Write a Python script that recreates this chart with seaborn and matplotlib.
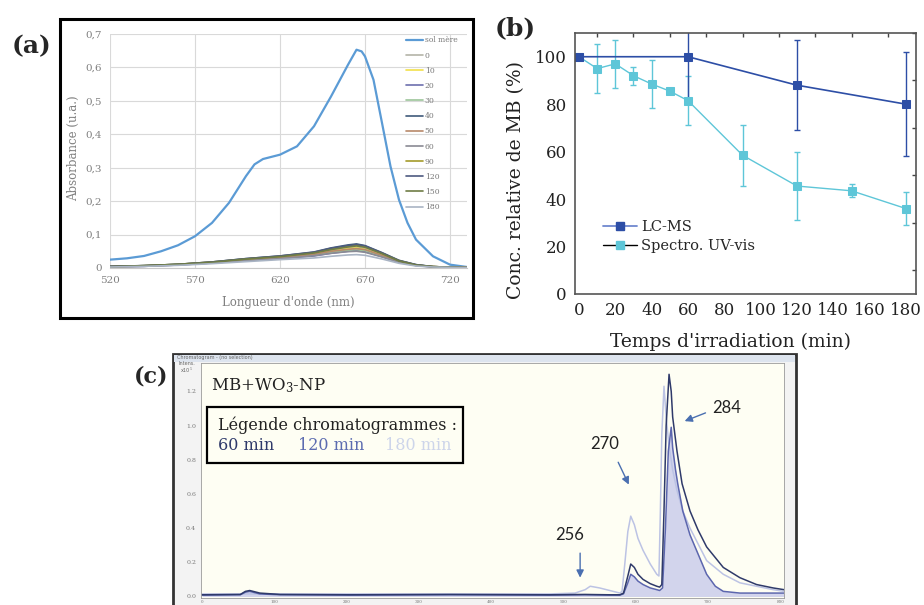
import matplotlib
matplotlib.use('Agg')
import matplotlib.pyplot as plt
from matplotlib.patches import Rectangle
from matplotlib.lines import Line2D
from matplotlib.ticker import MultipleLocator, FuncFormatter
import seaborn as sns

sns.set_style('white')
plt.rcParams['font.family'] = ['DejaVu Serif']
plt.rcParams['mathtext.fontset'] = 'dejavuserif'

W, H = 924, 605


def box(x0, y0, x1, y1):
    # rectangle en pixels (origine en haut a gauche) -> coordonnees figure
    return [x0 / W, 1 - y1 / H, (x1 - x0) / W, (y1 - y0) / H]


# ---------------- (a) spectres UV-vis ----------------
wl_mere = [520, 530, 540, 550, 560, 570, 580, 590, 600, 605, 610, 620, 630, 640, 650, 660,
           665, 668, 670, 675, 680, 685, 690, 695, 700, 710, 720, 730]
abs_mere = [0.025, 0.029, 0.036, 0.050, 0.068, 0.095, 0.135, 0.195, 0.275, 0.31, 0.326, 0.339,
            0.364, 0.424, 0.513, 0.608, 0.653, 0.648, 0.633, 0.563, 0.434, 0.304, 0.204, 0.135,
            0.085, 0.035, 0.010, 0.003]

wl = [520, 540, 560, 580, 600, 620, 640, 650, 660, 665, 670, 680, 690, 700, 710, 730]
abs_0 = [0.004, 0.006, 0.010, 0.016, 0.025, 0.032, 0.042, 0.052, 0.060, 0.062, 0.058, 0.040, 0.020, 0.009, 0.004, 0.001]
abs_10 = [0.004, 0.006, 0.010, 0.016, 0.024, 0.031, 0.041, 0.050, 0.058, 0.060, 0.056, 0.038, 0.019, 0.008, 0.004, 0.001]
abs_20 = [0.003, 0.005, 0.009, 0.015, 0.022, 0.028, 0.036, 0.044, 0.050, 0.052, 0.049, 0.034, 0.017, 0.008, 0.003, 0.001]
abs_30 = [0.004, 0.006, 0.010, 0.016, 0.024, 0.030, 0.039, 0.047, 0.053, 0.055, 0.052, 0.036, 0.018, 0.008, 0.004, 0.001]
abs_40 = [0.005, 0.007, 0.011, 0.018, 0.028, 0.036, 0.048, 0.060, 0.069, 0.072, 0.067, 0.046, 0.023, 0.010, 0.004, 0.001]
abs_50 = [0.004, 0.006, 0.010, 0.016, 0.025, 0.031, 0.041, 0.050, 0.056, 0.058, 0.055, 0.038, 0.019, 0.008, 0.004, 0.001]
abs_60 = [0.003, 0.005, 0.009, 0.015, 0.022, 0.028, 0.037, 0.044, 0.049, 0.050, 0.047, 0.033, 0.017, 0.007, 0.003, 0.001]
abs_90 = [0.004, 0.007, 0.011, 0.018, 0.027, 0.035, 0.046, 0.057, 0.065, 0.068, 0.064, 0.044, 0.022, 0.009, 0.004, 0.001]
abs_120 = [0.005, 0.007, 0.011, 0.018, 0.028, 0.036, 0.047, 0.059, 0.067, 0.070, 0.066, 0.045, 0.022, 0.010, 0.004, 0.001]
abs_150 = [0.004, 0.007, 0.011, 0.017, 0.027, 0.034, 0.045, 0.055, 0.063, 0.066, 0.062, 0.043, 0.021, 0.009, 0.004, 0.001]
abs_180 = [0.003, 0.005, 0.008, 0.013, 0.019, 0.025, 0.030, 0.035, 0.039, 0.040, 0.038, 0.027, 0.014, 0.006, 0.003, 0.001]

labels_a = ['0', '10', '20', '30', '40', '50', '60', '90', '120', '150', '180']
series_a = [abs_0, abs_10, abs_20, abs_30, abs_40, abs_50, abs_60, abs_90, abs_120, abs_150, abs_180]
colors_a = ['#b4b4a8', '#f2e04a', '#6d6fae', '#9cc59a', '#3f5a7a', '#b8896a', '#8a8a94',
            '#a49b2a', '#4e5a80', '#6f7d45', '#a9b4c4']

# ---------------- (b) cinetique ----------------
time_uv = [0, 10, 20, 30, 40, 50, 60, 90, 120, 150, 180]
conc_uv = [100, 95, 97, 92, 88.5, 85.5, 81.5, 58.5, 45.5, 43.5, 36]
err_uv = [0, 10.3, 10.1, 3.8, 10.3, 1.2, 10.3, 12.8, 14.4, 2.8, 6.8]
time_lc = [0, 60, 120, 180]
conc_lc = [100, 100, 88, 80]
err_lc = [0, 18, 19, 22]

# ---------------- (c) chromatogrammes ----------------
t_60 = [0, 53, 60, 66, 80, 108, 205, 343, 481, 530, 564, 578, 583, 589, 593, 598, 603, 610, 620,
        629, 633, 636, 639, 642, 646, 649, 651, 657, 664, 675, 686, 698, 721, 744, 767, 790, 805]
i_60 = [0.01, 0.012, 0.03, 0.035, 0.02, 0.012, 0.01, 0.012, 0.01, 0.012, 0.01, 0.01, 0.02, 0.12,
        0.19, 0.17, 0.13, 0.10, 0.075, 0.06, 0.055, 0.07, 0.5, 1.0, 1.30, 1.20, 1.05, 0.85, 0.66,
        0.50, 0.39, 0.29, 0.17, 0.11, 0.07, 0.05, 0.04]
t_120 = [0, 53, 60, 66, 80, 108, 205, 343, 481, 530, 564, 578, 583, 589, 593, 598, 603, 610, 620,
         629, 633, 637, 641, 645, 649, 651, 655, 658, 665, 675, 686, 698, 710, 721, 744, 790, 805]
i_120 = [0.008, 0.01, 0.025, 0.03, 0.015, 0.01, 0.008, 0.01, 0.008, 0.01, 0.008, 0.008, 0.015,
         0.08, 0.13, 0.115, 0.09, 0.07, 0.05, 0.04, 0.035, 0.05, 0.4, 0.85, 0.99, 0.87, 0.74,
         0.66, 0.50, 0.36, 0.25, 0.13, 0.06, 0.03, 0.02, 0.02, 0.02]
t_180 = [0, 205, 481, 516, 530, 537, 550, 564, 578, 581, 585, 589, 593, 598, 603, 610, 620, 629,
         632, 634, 636, 639, 642, 646, 651, 657, 665, 675, 698, 721, 744, 790, 805]
i_180 = [0.015, 0.015, 0.015, 0.02, 0.04, 0.06, 0.05, 0.035, 0.02, 0.03, 0.2, 0.38, 0.47, 0.42,
         0.34, 0.27, 0.19, 0.13, 0.12, 0.5, 0.95, 1.23, 1.05, 0.88, 0.74, 0.62, 0.50, 0.40,
         0.21, 0.13, 0.08, 0.04, 0.03]

fig = plt.figure(figsize=(W / 100, H / 100), dpi=100)

# ===== panneau (a) =====
axa = fig.add_axes(box(110, 34, 467, 268))
gris = '#808080'
sns.lineplot(x=wl_mere, y=abs_mere, color='#5b9bd5', lw=1.6, label='sol m\u00e8re', ax=axa)
for lab, ser, col in zip(labels_a, series_a, colors_a):
    sns.lineplot(x=wl, y=ser, color=col, lw=1.2, label=lab, ax=axa)
axa.set_xlim(520, 730)
axa.set_ylim(0, 0.7)
axa.set_xticks([520, 570, 620, 670, 720])
axa.yaxis.set_major_locator(MultipleLocator(0.1))
axa.yaxis.set_major_formatter(FuncFormatter(lambda v, p: '0' if abs(v) < 1e-9 else f'{v:.1f}'.replace('.', ',')))
axa.grid(True, color='#d9d9d9', lw=0.8)
for s in ['top', 'right', 'left']:
    axa.spines[s].set_visible(False)
axa.spines['bottom'].set_color('#c8c8c8')
axa.tick_params(labelsize=7.5, colors=gris, length=0, pad=6)
axa.set_xlabel("Longueur d'onde (nm)", fontsize=8.5, color=gris)
axa.set_ylabel('Absorbance (u.a.)', fontsize=8.5, color=gris)
axa.xaxis.set_label_coords(0.5, -0.12)
axa.yaxis.set_label_coords(-0.085, 0.51)
leg = axa.legend(loc='upper left', bbox_to_anchor=(0.83, 0.99), frameon=False, fontsize=5.5,
                 handlelength=2.2, handletextpad=0.2, labelspacing=0.94, borderpad=0,
                 borderaxespad=0)
for t in leg.get_texts():
    t.set_color('#777777')
fig.add_artist(Rectangle((60 / W, 1 - 318 / H), 413 / W, 299 / H, transform=fig.transFigure,
                         fill=False, edgecolor='black', lw=2.2, zorder=5))
fig.text(32 / W, 1 - 46 / H, '(a)', fontsize=18, fontweight='bold', ha='center', va='center')

# ===== panneau (b) =====
axb = fig.add_axes(box(575, 33, 916, 294))
c_lc = '#2d4ea6'
c_uv = '#5ec6d8'
axb.errorbar(time_uv, conc_uv, yerr=err_uv, fmt='none', ecolor=c_uv, elinewidth=1.0, capsize=2.5)
axb.errorbar(time_lc, conc_lc, yerr=err_lc, fmt='none', ecolor=c_lc, elinewidth=1.0, capsize=2.5)
sns.lineplot(x=time_uv, y=conc_uv, color=c_uv, lw=1.0, marker='s', markersize=6,
             markeredgecolor=c_uv, ax=axb)
sns.lineplot(x=time_lc, y=conc_lc, color=c_lc, lw=1.2, marker='s', markersize=6,
             markeredgecolor=c_lc, ax=axb)
axb.set_xlim(-2.2, 185.5)
axb.set_ylim(0, 110)
axb.xaxis.set_major_locator(MultipleLocator(20))
axb.xaxis.set_minor_locator(MultipleLocator(10))
axb.yaxis.set_major_locator(MultipleLocator(20))
axb.yaxis.set_minor_locator(MultipleLocator(10))
axb.tick_params(which='major', direction='out', length=4, width=1, colors='#444',
                labelcolor='#222', labelsize=12, pad=2)
axb.tick_params(which='minor', direction='in', length=3, width=1, colors='#444',
                top=True, right=True)
for s in axb.spines.values():
    s.set_color('#555')
    s.set_linewidth(1.2)
axb.set_xlabel("Temps d'irradiation (min)", fontsize=13.5, color='#222')
axb.set_ylabel('Conc. relative de MB (%)', fontsize=13.5, color='#222')
axb.xaxis.set_label_coords(0.457, -0.149)
axb.yaxis.set_label_coords(-0.147, 0.437)
h_lc = Line2D([], [], color='#6f88cf', lw=1.3, marker='s', markersize=6, markerfacecolor=c_lc,
              markeredgecolor=c_lc)
h_uv = Line2D([], [], color='black', lw=1.0, marker='s', markersize=6, markerfacecolor=c_uv,
              markeredgecolor=c_uv)
axb.legend([h_lc, h_uv], ['LC-MS', 'Spectro. UV-vis'], loc='upper left',
           bbox_to_anchor=((603 - 575) / 341, 1 - (220 - 33) / 261), frameon=False,
           fontsize=10.5, handlelength=2.3, handletextpad=0.3, labelspacing=0.35,
           borderpad=0, borderaxespad=0)
fig.text(515 / W, 1 - 28 / H, '(b)', fontsize=18, fontweight='bold', ha='center', va='center')

# ===== panneau (c) =====
fig.add_artist(Rectangle((173 / W, 1 - 612 / H), 623 / W, 258 / H, transform=fig.transFigure,
                         facecolor='#f3f3f3', edgecolor='#333333', lw=2, zorder=-5))
fig.add_artist(Rectangle((174 / W, 1 - 362 / H), 621 / W, 7 / H, transform=fig.transFigure,
                         facecolor='#dde4ee', edgecolor='none', zorder=-4))
fig.text(177 / W, 1 - 358 / H, 'Chromatogram - (no selection)', fontsize=3.5, color='#666',
         family='DejaVu Sans', va='center')
axc = fig.add_axes(box(201, 363, 784, 598))
axc.set_facecolor('#fefef3')
c60, c120, c180 = '#2f3a6a', '#5c66ae', '#bcc3e4'
axc.fill_between(t_120, i_120, 0, color='#c4c6ea', alpha=0.75, lw=0)
sns.lineplot(x=t_180, y=i_180, color=c180, lw=1.1, ax=axc)
sns.lineplot(x=t_120, y=i_120, color=c120, lw=1.1, ax=axc)
sns.lineplot(x=t_60, y=i_60, color=c60, lw=1.1, ax=axc)
axc.set_xlim(-1.4, 805)
axc.set_ylim(-0.0088, 1.366)
axc.yaxis.set_major_locator(MultipleLocator(0.2))
axc.yaxis.set_major_formatter(FuncFormatter(lambda v, p: f'{v:.1f}'))
axc.xaxis.set_major_locator(MultipleLocator(100))
axc.xaxis.set_minor_locator(MultipleLocator(20))
axc.tick_params(axis='y', which='major', direction='out', length=2, width=0.5, colors='#777',
                labelsize=4.5, pad=1.5)
axc.tick_params(axis='x', which='major', direction='out', length=1, width=0.5, colors='#777',
                labelsize=3, pad=0.3)
axc.tick_params(which='minor', direction='out', length=1, width=0.4, colors='#999')
for s in axc.spines.values():
    s.set_color('#9a9a9a')
    s.set_linewidth(0.6)
fig.text(187 / W, 1 - 368 / H, 'Intens.\nx10$^5$', fontsize=3.5, color='#666',
         family='DejaVu Sans', ha='center', va='center', linespacing=1.0)

axc.text(0.017, 0.905, 'MB+WO$_3$-NP', transform=axc.transAxes, fontsize=12, color='#222',
         va='center')
fig.add_artist(Rectangle((207 / W, 1 - 463 / H), 256 / W, 56 / H, transform=fig.transFigure,
                         fill=False, edgecolor='black', lw=1.6, zorder=5))
fig.text(218 / W, 1 - 425 / H, 'L\u00e9gende chromatogrammes :', fontsize=11.5, color='#222',
         va='center')
fig.text(218 / W, 1 - 446 / H, '60 min', fontsize=11.5, color=c60, va='center')
fig.text(298 / W, 1 - 446 / H, '120 min', fontsize=11.5, color='#5c6cb0', va='center')
fig.text(385 / W, 1 - 446 / H, '180 min', fontsize=11.5, color='#cdd5ea', va='center')

arrow = dict(arrowstyle='-|>', color='#4a6fb0', lw=1.0, mutation_scale=11)
axc.annotate('', xy=(523, 0.094), xytext=(523, 0.27), arrowprops=arrow)
axc.annotate('', xy=(592, 0.64), xytext=(574, 0.80), arrowprops=arrow)
axc.annotate('', xy=(664, 1.02), xytext=(700, 1.08), arrowprops=arrow)
for lab, tx, ty in [('256', 509, 0.357), ('270', 557, 0.895), ('284', 725, 1.10)]:
    axc.text(tx, ty, lab, fontsize=12, color='#222', family='Lato', ha='center', va='center')
fig.text(151 / W, 1 - 377 / H, '(c)', fontsize=16, fontweight='bold', ha='center', va='center')

fig.savefig('out.png', dpi=100)
